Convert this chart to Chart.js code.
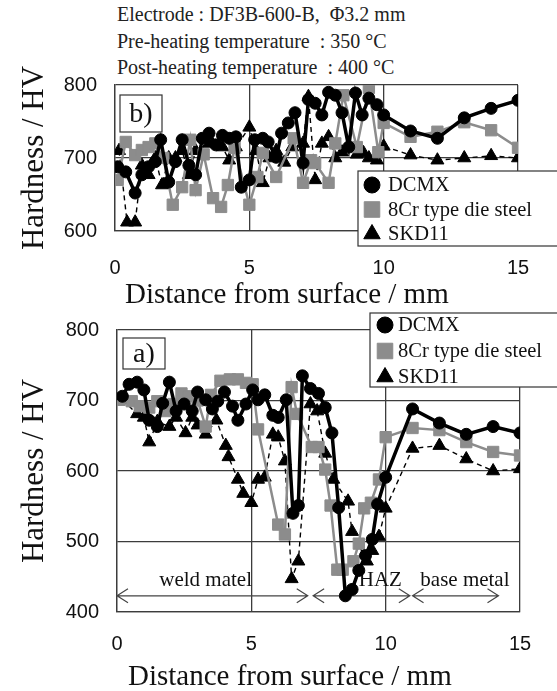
<!DOCTYPE html>
<html>
<head>
<meta charset="utf-8">
<title>Hardness profile</title>
<script src="https://cdn.jsdelivr.net/npm/chart.js@4.4.0/dist/chart.umd.min.js"></script>
<style>
  body { margin: 0; background: #fff; }
  #wrap { position: relative; width: 557px; height: 691px; overflow: hidden; background: #fff; }
  #chart-b { position: absolute; left: 0; top: 0; }
  #chart-a { position: absolute; left: 0; top: 300px; }
  .header {
    position: absolute; left: 117px; top: 1px;
    font-family: 'Liberation Serif', serif; font-size: 20px; line-height: 26.5px; color: #222;
    white-space: nowrap;
  }
  .xtitle {
    position: absolute; left: 125px; line-height: 34px;
    font-family: 'Liberation Serif', serif; font-size: 29px; color: #111; white-space: nowrap;
  }
</style>
</head>
<body>
<div id="wrap">
  <div class="header">
    Electrode : DF3B-600-B,&nbsp; Φ3.2 mm<br>
    Pre-heating temperature&nbsp; : 350 °C<br>
    Post-heating temperature&nbsp; : 400 °C
  </div>
  <canvas id="chart-b" width="557" height="300"></canvas>
  <canvas id="chart-a" width="557" height="391"></canvas>
  <div class="xtitle" style="top:276px">Distance from surface / mm</div>
  <div class="xtitle" style="top:658px; left:128px">Distance from surface / mm</div>
</div>
<script>
'use strict';

// Series names (legend order)
const seriesNames = ['DCMX', '8Cr type die steel', 'SKD11'];

// b) post-heated: distance (mm) and hardness (HV)
const bDcmxX = [0.1, 0.4, 0.75, 1.0, 1.25, 1.5, 1.7, 2.0, 2.25, 2.5, 2.75, 3.0, 3.25, 3.5, 3.75, 4.0, 4.25, 4.5, 4.7, 5.0, 5.2, 5.5, 5.7, 6.0, 6.2, 6.45, 6.7, 7.0, 7.2, 7.45, 7.7, 7.95, 8.2, 8.45, 8.7, 8.95, 9.2, 9.45, 9.75, 10.0, 11, 12, 13, 14, 15];
const bDcmxY = [688, 681, 652, 677, 688, 695, 725, 667, 695, 725, 690, 677, 727, 734, 718, 731, 727, 729, 660, 670, 725, 727, 722, 701, 734, 748, 762, 693, 780, 775, 759, 790, 786, 762, 715, 789, 759, 782, 773, 759, 737, 727, 755, 768, 779];

const bCr8X = [0.1, 0.4, 0.75, 1.0, 1.25, 1.5, 1.8, 2.15, 2.5, 2.8, 3.0, 3.3, 3.65, 3.95, 4.2, 4.45, 5.0, 5.3, 5.5, 6.0, 6.65, 7.0, 7.3, 7.45, 7.95, 8.2, 8.5, 9.0, 9.45, 9.8, 10.0, 11, 12, 13, 14, 15];
const bCr8Y = [670, 722, 704, 711, 715, 720, 700, 636, 660, 725, 656, 705, 645, 633, 663, 714, 636, 674, 707, 674, 727, 666, 697, 693, 666, 720, 786, 715, 796, 708, 748, 729, 736, 749, 738, 714];

const bSkdX = [0.15, 0.45, 0.75, 1.0, 1.25, 1.5, 1.75, 2.0, 2.25, 2.5, 2.75, 3.0, 3.5, 4.0, 4.25, 4.5, 5.0, 5.25, 5.5, 5.75, 6.0, 6.3, 6.6, 7.0, 7.2, 7.45, 7.7, 7.95, 8.2, 8.45, 8.7, 9.0, 9.25, 9.45, 9.75, 10.0, 11, 12, 13, 14, 15];
const bSkdY = [710, 612, 612, 690, 677, 700, 663, 700, 700, 710, 677, 710, 720, 715, 697, 715, 742, 710, 666, 700, 710, 694, 715, 720, 784, 670, 720, 729, 700, 708, 715, 705, 707, 700, 697, 716, 704, 697, 700, 703, 700];

// a) as welded
const aDcmxX = [0.2, 0.45, 0.75, 1.0, 1.2, 1.5, 1.7, 1.95, 2.2, 2.5, 2.8, 3.0, 3.3, 3.55, 3.75, 4.0, 4.3, 4.5, 4.8, 5.05, 5.25, 5.5, 5.8, 6.0, 6.3, 6.55, 6.75, 6.9, 7.2, 7.5, 7.75, 8.0, 8.25, 8.5, 8.75, 9.0, 9.25, 9.5, 9.7, 10.0, 11, 12, 13, 14, 15];
const aDcmxY = [706, 723, 726, 715, 672, 663, 696, 726, 685, 695, 685, 712, 701, 688, 699, 712, 692, 672, 695, 715, 701, 708, 679, 676, 701, 540, 551, 735, 717, 710, 690, 654, 548, 423, 432, 459, 480, 503, 553, 591, 688, 668, 652, 663, 654];

const aCr8X = [0.1, 0.55, 0.85, 1.2, 1.5, 1.8, 2.1, 2.4, 2.65, 3.0, 3.3, 3.5, 3.85, 4.2, 4.5, 4.8, 5.05, 5.25, 6.0, 6.25, 6.5, 6.7, 7.25, 7.5, 7.75, 7.95, 8.2, 8.4, 8.8, 9.0, 9.2, 9.45, 9.75, 10.0, 11, 12, 13, 14, 15];
const aCr8Y = [701, 699, 692, 690, 699, 685, 695, 710, 706, 700, 663, 708, 728, 730, 730, 725, 723, 659, 524, 510, 719, 681, 634, 634, 602, 551, 460, 460, 472, 497, 547, 555, 588, 648, 661, 658, 641, 627, 622];

const aSkdX = [0.2, 0.75, 1.0, 1.2, 1.5, 1.95, 2.2, 2.55, 2.8, 3.0, 3.3, 3.7, 4.05, 4.15, 4.5, 4.7, 5.0, 5.25, 5.5, 5.8, 6.0, 6.25, 6.5, 6.75, 7.2, 7.45, 7.75, 8.05, 8.6, 8.75, 9.3, 9.5, 9.75, 10.0, 11, 12, 13, 14, 15];
const aSkdY = [701, 681, 676, 641, 670, 663, 676, 654, 676, 665, 652, 672, 636, 620, 588, 568, 555, 588, 591, 652, 648, 614, 447, 472, 695, 685, 625, 588, 557, 514, 472, 487, 507, 547, 632, 636, 617, 600, 603];

// Zones marked under chart a)
const zoneLabels = ['weld matel', 'HAZ', 'base metal'];
const zoneStart = [0, 7.3, 11.0];
const zoneEnd = [7.1, 10.9, 14.2];
const zoneTextAt = [3.3, 9.8, 12.95];

// Axis ticks
const xTicks = [0, 5, 10, 15];
const bYTicks = [600, 700, 800];
const aYTicks = [400, 500, 600, 700, 800];

const GRAY = '#8c8c8c';
const GRID = '#3c3c3c';
const SERIF = "'Liberation Serif', 'Times New Roman', serif";
const SANS = "'Liberation Sans', Arial, sans-serif";

const seriesStyles = [
    { borderColor: '#000', backgroundColor: '#000', borderWidth: 3.5, pointStyle: 'circle', pointRadius: 6, pointBorderWidth: 1 },
    { borderColor: GRAY, backgroundColor: GRAY, borderWidth: 2.5, pointStyle: 'rect', pointRadius: 8, pointBorderWidth: 1 },
    { borderColor: '#000', backgroundColor: '#000', borderWidth: 1.4, borderDash: [5, 4], pointStyle: 'triangle', pointRadius: 7.5, pointBorderWidth: 1 }
];

function pairs(xs, ys) {
    return xs.map((x, i) => ({ x: x, y: ys[i] }));
}

function buildDatasets(sets) {
    return sets.map((s, i) => Object.assign({
        label: seriesNames[i],
        data: pairs(s[0], s[1]),
        showLine: true,
        tension: 0
    }, seriesStyles[i]));
}

/**
 * Panel label, legend box and zone arrows
 */
const overlayPlugin = {
    id: 'overlays',
    beforeDatasetsDraw(chart, args, opts) {
        if (!opts.zones) return;
        const ctx = chart.ctx;
        const xs = chart.scales.x;
        const ys = chart.scales.y;
        const lineY = ys.getPixelForValue(opts.zones.arrowAt);
        const textY = ys.getPixelForValue(opts.zones.textAt);
        ctx.save();
        ctx.strokeStyle = '#444';
        ctx.lineWidth = 1.2;
        ctx.fillStyle = '#111';
        ctx.font = '21px ' + SERIF;
        ctx.textAlign = 'center';
        ctx.textBaseline = 'middle';
        zoneLabels.forEach((label, i) => {
            const x1 = xs.getPixelForValue(zoneStart[i]);
            const x2 = xs.getPixelForValue(zoneEnd[i]);
            ctx.beginPath();
            ctx.moveTo(x1, lineY);
            ctx.lineTo(x2, lineY);
            ctx.moveTo(x1 + 11, lineY - 7);
            ctx.lineTo(x1, lineY);
            ctx.lineTo(x1 + 11, lineY + 7);
            ctx.moveTo(x2 - 11, lineY - 7);
            ctx.lineTo(x2, lineY);
            ctx.lineTo(x2 - 11, lineY + 7);
            ctx.stroke();
            ctx.fillText(label, xs.getPixelForValue(zoneTextAt[i]), textY);
        });
        ctx.restore();
    },
    afterDatasetsDraw(chart, args, opts) {
        const ctx = chart.ctx;
        const area = chart.chartArea;
        ctx.save();

        // Panel label a) / b)
        const p = opts.panel;
        ctx.fillStyle = '#fff';
        ctx.strokeStyle = '#333';
        ctx.lineWidth = 1.2;
        ctx.fillRect(area.left + p.dx, area.top + p.dy, p.w, p.h);
        ctx.strokeRect(area.left + p.dx, area.top + p.dy, p.w, p.h);
        ctx.fillStyle = '#111';
        ctx.font = '28px ' + SERIF;
        ctx.textAlign = 'center';
        ctx.textBaseline = 'middle';
        ctx.fillText(p.text, area.left + p.dx + p.w / 2, area.top + p.dy + p.h / 2 + 1);

        // Legend box
        const lg = opts.legend;
        ctx.fillStyle = '#fff';
        ctx.strokeStyle = '#333';
        ctx.fillRect(lg.x, lg.y, lg.w, lg.h);
        ctx.strokeRect(lg.x, lg.y, lg.w, lg.h);
        const markerSizes = [8, 11, 9.5];
        seriesNames.forEach((name, i) => {
            const cy = lg.y + lg.rowTop + i * lg.rowGap;
            const st = seriesStyles[i];
            ctx.fillStyle = st.backgroundColor;
            ctx.strokeStyle = st.borderColor;
            ctx.lineWidth = 1;
            ctx.setLineDash([]);
            Chart.helpers.drawPoint(ctx, {
                pointStyle: st.pointStyle, radius: markerSizes[i], rotation: 0, borderWidth: 1
            }, lg.x + lg.markerX, cy);
            ctx.fillStyle = '#111';
            ctx.font = '20.5px ' + SERIF;
            ctx.textAlign = 'left';
            ctx.textBaseline = 'middle';
            ctx.fillText(name, lg.x + lg.textX, cy + 1);
        });
        ctx.restore();
    }
};

function makeChart(canvasId, sets, yTicks, box, overlays) {
    const ctx = document.getElementById(canvasId).getContext('2d');
    return new Chart(ctx, {
        type: 'scatter',
        data: { datasets: buildDatasets(sets) },
        plugins: [overlayPlugin],
        options: {
            responsive: false,
            animation: false,
            devicePixelRatio: 1,
            events: [],
            layout: { padding: { top: box.top, right: box.right, bottom: 0, left: 0 } },
            plugins: {
                legend: { display: false },
                tooltip: { enabled: false },
                overlays: overlays
            },
            scales: {
                x: {
                    type: 'linear',
                    min: xTicks[0],
                    max: xTicks[xTicks.length - 1],
                    afterFit: (scale) => { scale.height = box.xHeight; },
                    afterBuildTicks: (scale) => { scale.ticks = xTicks.map(v => ({ value: v })); },
                    ticks: {
                        color: '#111',
                        padding: box.xPad,
                        maxRotation: 0,
                        font: { family: SANS, size: 20 }
                    },
                    grid: { color: GRID, lineWidth: 1.3, drawTicks: false },
                    border: { color: GRID, width: 1.3 }
                },
                y: {
                    type: 'linear',
                    min: yTicks[0],
                    max: yTicks[yTicks.length - 1],
                    afterFit: (scale) => { scale.width = box.yWidth; },
                    afterBuildTicks: (scale) => { scale.ticks = yTicks.map(v => ({ value: v })); },
                    ticks: {
                        color: '#111',
                        padding: 18,
                        font: { family: SANS, size: 20 }
                    },
                    grid: { color: GRID, lineWidth: 1.3, drawTicks: false },
                    border: { color: GRID, width: 1.3 },
                    title: {
                        display: true,
                        text: 'Hardness / HV',
                        color: '#111',
                        padding: { top: 16, bottom: 0 },
                        font: { family: SERIF, size: 31 }
                    }
                }
            }
        }
    });
}

// b) upper chart
makeChart('chart-b',
    [[bDcmxX, bDcmxY], [bCr8X, bCr8Y], [bSkdX, bSkdY]],
    bYTicks,
    { top: 85, right: 39, xHeight: 69, xPad: 25, yWidth: 115 },
    {
        panel: { text: 'b)', dx: 5, dy: 10, w: 42, h: 37 },
        legend: { x: 358, y: 171, w: 205, h: 75, rowTop: 14, rowGap: 24.5, markerX: 14, textX: 30 }
    }
);

// a) lower chart
makeChart('chart-a',
    [[aDcmxX, aDcmxY], [aCr8X, aCr8Y], [aSkdX, aSkdY]],
    aYTicks,
    { top: 15, right: 37, xHeight: 79, xPad: 20, yWidth: 117 },
    {
        panel: { text: 'a)', dx: 6, dy: 8, w: 42, h: 31 },
        legend: { x: 370, y: 13, w: 195, h: 74, rowTop: 12, rowGap: 26, markerX: 15, textX: 28 },
        zones: { arrowAt: 423, textAt: 445 }
    }
);
</script>
</body>
</html>
